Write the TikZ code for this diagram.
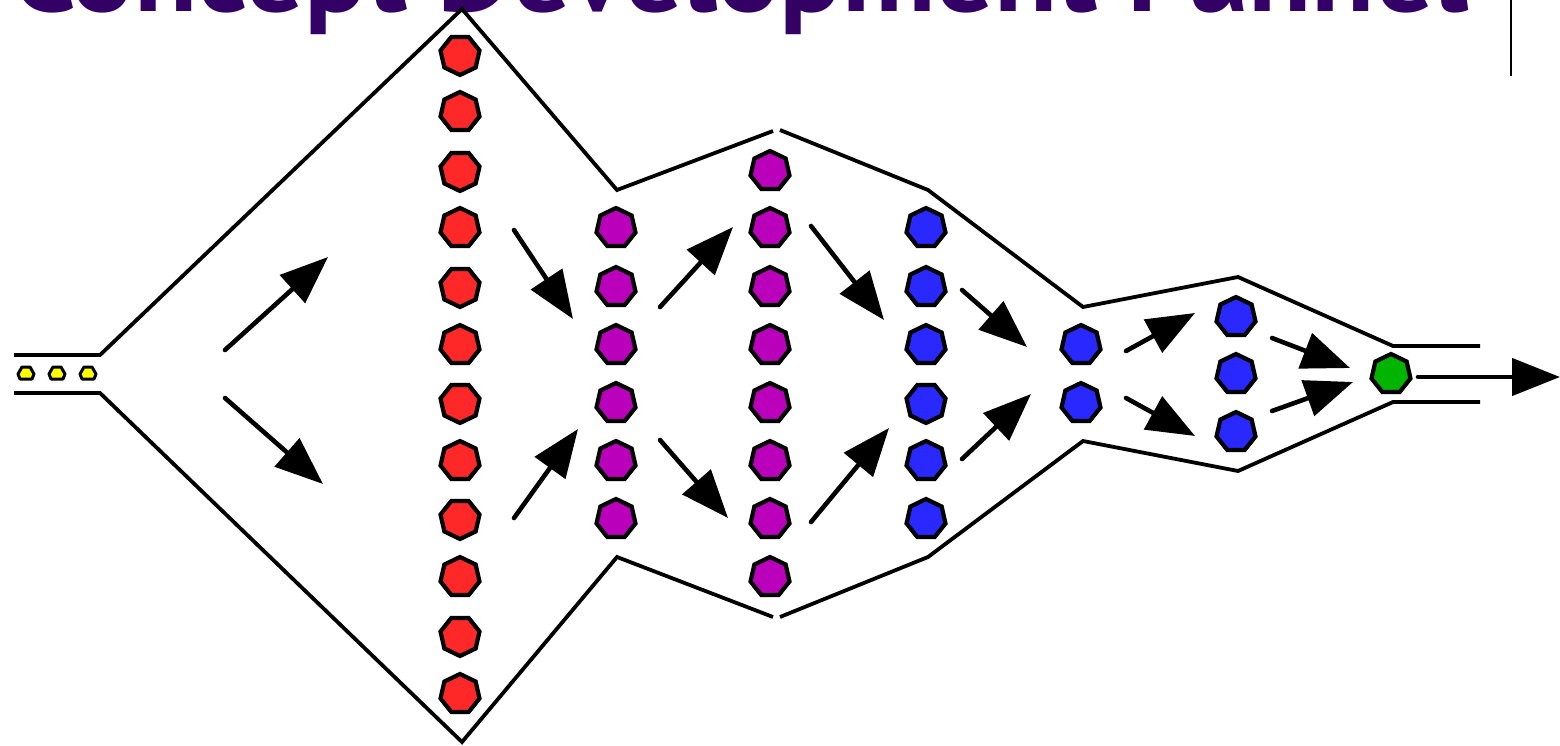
\documentclass[tikz,border=0pt]{standalone}
\usepackage{fontspec}
\setmainfont{PT Sans}
\usetikzlibrary{shapes.geometric,arrows.meta}
\definecolor{titlepurple}{HTML}{330066}
\definecolor{ideared}{HTML}{FF2828}
\definecolor{ideapurple}{HTML}{BB00BB}
\definecolor{ideablue}{HTML}{2828FF}
\definecolor{ideagreen}{HTML}{00B400}
\definecolor{seedyellow}{HTML}{FFFF00}
\begin{document}
\begin{tikzpicture}[x=1pt,y=-1pt,
  funnel/.style={line width=3.8pt},
  idea/.style={regular polygon, regular polygon sides=7, minimum size=40pt,
    inner sep=0pt, draw=black, line width=4.2pt},
  seed/.style={draw=black, fill=seedyellow, line width=3pt, line join=round},
  flow/.style={line width=4.6pt, line cap=round,
    -{Triangle[length=48pt,width=37pt]}}]
\useasboundingbox (0,0) rectangle (1560,746);
\clip (0,0) rectangle (1560,746);

% title, mostly above the page edge
\node[anchor=base west, inner sep=0pt, text=titlepurple, font=\bfseries]
  (title) at (11,12) {\resizebox{1456pt}{!}{Concept Development Funnel}};
\draw[line width=2.4pt] (1511,0) -- (1511,76);

% funnel outline
\draw[funnel] (14,355) -- (100,355) -- (462,9) -- (617,190) -- (773,131);
\draw[funnel] (780,130) -- (928,190) -- (1083,307) -- (1238,277) -- (1393,346) -- (1480,346);
\draw[funnel] (14,393) -- (100,393) -- (462,742) -- (617,557) -- (773,617);
\draw[funnel] (780,617) -- (928,557) -- (1083,441) -- (1238,471) -- (1393,402) -- (1480,402);

% seeds entering the funnel
\coordinate (s1) at (26,373);
\coordinate (s2) at (57,373);
\coordinate (s3) at (88,373);
\foreach \s in {s1,s2,s3}
  \draw[seed, shift={(\s)}] (-4,-6) -- (4,-6) -- (8,1) -- (6,6) -- (-6,6) -- (-8,1) -- cycle;

% ideas, column by column
\foreach \y [count=\i] in {55,112,171,228,287,345,403,461,519,577,636,694}
  \node[idea, fill=ideared, shape border rotate={180*mod(\i,2)}] (r\i) at (460,\y) {};
\foreach \y [count=\i] in {228,287,345,403,461,519}
  \node[idea, fill=ideapurple] (pa\i) at (616,\y) {};
\foreach \y [count=\i] in {171,228,287,345,403,461,519,577}
  \node[idea, fill=ideapurple] (pb\i) at (770,\y) {};
\foreach \y [count=\i] in {228,287,345,403,461,519}
  \node[idea, fill=ideablue, shape border rotate={180*(1-mod(\i,2))*(\i==4)}] (ba\i) at (926,\y) {};
\foreach \y [count=\i] in {345,403}
  \node[idea, fill=ideablue] (bb\i) at (1081,\y) {};
\foreach \y [count=\i] in {317,374,432}
  \node[idea, fill=ideablue] (bc\i) at (1236,\y) {};
\node[idea, fill=ideagreen] (win) at (1391,374) {};

% flow arrows
\coordinate (f1a) at (225,350);  \coordinate (f1b) at (328,257);
\coordinate (f2a) at (225,398);  \coordinate (f2b) at (323,484);
\coordinate (f3a) at (514,230);  \coordinate (f3b) at (573,319);
\coordinate (f4a) at (660,307);  \coordinate (f4b) at (733,227);
\coordinate (f5a) at (514,518);  \coordinate (f5b) at (578,429);
\coordinate (f6a) at (660,440);  \coordinate (f6b) at (728,518);
\coordinate (f7a) at (811,226);  \coordinate (f7b) at (884,320);
\coordinate (f8a) at (811,522);  \coordinate (f8b) at (889,428);
\coordinate (f9a) at (962,290);  \coordinate (f9b) at (1027,347);
\coordinate (f10a) at (962,459); \coordinate (f10b) at (1031,394);
\coordinate (f11a) at (1126,351); \coordinate (f11b) at (1195,313);
\coordinate (f12a) at (1126,398); \coordinate (f12b) at (1195,436);
\coordinate (f13a) at (1272,338); \coordinate (f13b) at (1350,368);
\coordinate (f14a) at (1272,411); \coordinate (f14b) at (1353,382);
\coordinate (outa) at (1418,377);
\coordinate (outb) at (1560,377);
\foreach \k in {1,...,14}
  \draw[flow] (f\k a) -- (f\k b);
\draw[flow] (outa) -- (outb);
\end{tikzpicture}
\end{document}
